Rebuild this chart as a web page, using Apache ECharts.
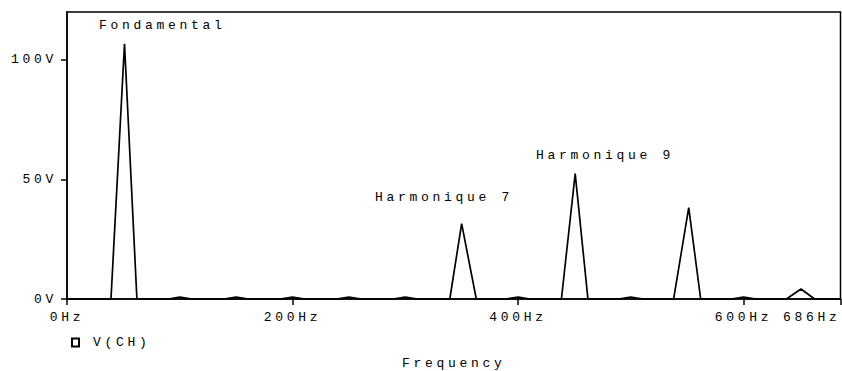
<!DOCTYPE html>
<html>
<head>
<meta charset="utf-8">
<script src="https://cdn.jsdelivr.net/npm/echarts@6/dist/echarts.min.js"></script>
<style>
  html, body { margin: 0; padding: 0; background: #fff; }
  #chart { width: 842px; height: 371px; }
  #chart svg text { letter-spacing: 3.7px; }
</style>
</head>
<body>
<div id="chart"></div>
<script>
// Frequency sample points (Hz) and amplitude (V)
var freqHz = [0, 39, 51, 62, 90, 100, 111, 139, 150, 161, 189, 200, 211, 239, 250, 261, 289, 300, 311, 339.5, 350, 363, 389, 400, 411, 438.5, 450.7, 462, 489, 500, 511, 538, 551.4, 562, 589, 600, 611, 638, 651, 663, 686];
var voltV  = [0, 0, 106.7, 0, 0, 0.8, 0, 0, 0.8, 0, 0, 0.8, 0, 0, 0.8, 0, 0, 0.8, 0, 0, 31.5, 0, 0, 0.8, 0, 0, 52.4, 0, 0, 0.8, 0, 0, 38.2, 0, 0, 0.8, 0, 0, 4.2, 0, 0];
var xTicks = [0, 200, 400, 600, 686];
var yTicks = [0, 50, 100];
var seriesName = 'V(CH)';
var annotations = ['Fondamental', 'Harmonique 7', 'Harmonique 9'];

var points = freqHz.map(function (f, i) { return [f, voltV[i]]; });
var font = '"Liberation Mono", "DejaVu Sans Mono", monospace';
var txt = { fontFamily: font, fontSize: 13, color: '#000' };

var chart = echarts.init(document.getElementById('chart'), null, { renderer: 'svg' });
chart.setOption({
  animation: false,
  backgroundColor: '#fff',
  grid: { left: 67, right: 1.5, top: 12, bottom: 72, outerBoundsMode: 'none', containLabel: false,
          show: true, borderColor: '#000', borderWidth: 1.5, backgroundColor: 'transparent' },
  legend: {
    left: 71, top: 336, padding: 0,
    itemWidth: 7, itemHeight: 8, itemGap: 10,
    textStyle: { fontFamily: font, fontSize: 13, color: '#000', padding: [0, 0, 0, 9] },
    data: [{ name: seriesName, icon: 'rect', itemStyle: { color: '#fff', borderColor: '#000', borderWidth: 2 } }]
  },
  xAxis: {
    type: 'value', min: 0, max: 686,
    name: 'Frequency', nameLocation: 'middle', nameGap: 58,
    nameTextStyle: txt,
    axisLine: { show: true, lineStyle: { color: '#000', width: 1.5 } },
    axisTick: { show: true, customValues: xTicks, length: 6, lineStyle: { color: '#000', width: 1.5 } },
    axisLabel: { customValues: xTicks, formatter: '{value}Hz', margin: 12, alignMaxLabel: 'right', fontFamily: font, fontSize: 13, color: '#000' },
    splitLine: { show: false }
  },
  yAxis: {
    type: 'value', min: 0, max: 120,
    axisLine: { show: true, lineStyle: { color: '#000', width: 1.5 } },
    axisTick: { show: true, customValues: yTicks, length: 6, lineStyle: { color: '#000', width: 1.5 } },
    axisLabel: { customValues: yTicks, formatter: '{value}V', margin: 10, fontFamily: font, fontSize: 13, color: '#000' },
    splitLine: { show: false }
  },
  series: [{
    name: seriesName, type: 'line', data: points,
    showSymbol: false, symbol: 'none',
    lineStyle: { color: '#000', width: 1.7 },
    itemStyle: { color: '#000' }
  }],
  graphic: [
    { type: 'text', left: 99, top: 19, style: { text: annotations[0], font: '13px ' + font, fill: '#000' } },
    { type: 'text', left: 375, top: 191, style: { text: annotations[1], font: '13px ' + font, fill: '#000' } },
    { type: 'text', left: 536, top: 149, style: { text: annotations[2], font: '13px ' + font, fill: '#000' } }
  ]
});
</script>
</body>
</html>
